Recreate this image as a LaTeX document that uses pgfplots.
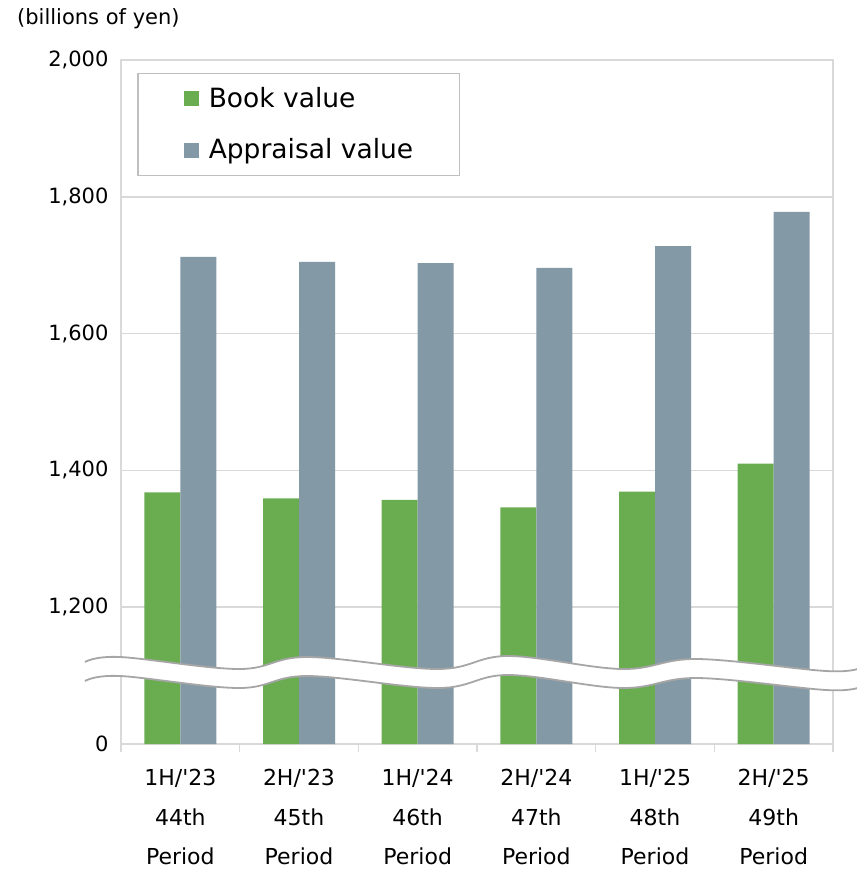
\documentclass[border=0pt]{standalone}
\usepackage{fontspec}
\setmainfont{DejaVu Sans}
\usepackage{pgfplots}
\pgfplotsset{compat=1.18}
\definecolor{bookgreen}{HTML}{6AAD50}
\definecolor{apprgray}{HTML}{839AA6}
\definecolor{gridgray}{HTML}{D9D9D9}
\definecolor{wavegray}{HTML}{A6A6A6}
\definecolor{legendgray}{HTML}{BFBFBF}
\pgfplotsset{sqlegend/.style={legend image code/.code={\fill[##1] (0bp,-7.5bp) rectangle (15bp,7.5bp);}}}
\begin{document}
\begin{tikzpicture}
\path[use as bounding box] (0,0) rectangle (857bp,-869bp);
\node[anchor=west, font=\fontsize{21bp}{25bp}\selectfont, inner sep=0pt] at (17bp,-19bp) {(billions of yen)};
\begin{axis}[
  at={(121bp,-744bp)}, anchor=south west, scale only axis,
  width=712bp, height=684bp,
  xmin=-0.5, xmax=5.5, ymin=1000, ymax=2000,
  ybar=0pt, bar width=36bp,
  axis line style={draw=gridgray, line width=1.5bp},
  ytick={1000,1200,1400,1600,1800,2000},
  yticklabels={0,{1,200},{1,400},{1,600},{1,800},{2,000}},
  ytick style={draw=none},
  ymajorgrids, grid style={draw=gridgray, line width=1.5bp},
  yticklabel style={font=\fontsize{21bp}{25bp}\selectfont, xshift=-1bp},
  xtick={-0.5,0.5,1.5,2.5,3.5,4.5,5.5},
  x tick label as interval,
  xticklabels={{1H/\textquotesingle23\\44th\\Period},{2H/\textquotesingle23\\45th\\Period},{1H/\textquotesingle24\\46th\\Period},{2H/\textquotesingle24\\47th\\Period},{1H/\textquotesingle25\\48th\\Period},{2H/\textquotesingle25\\49th\\Period}},
  xtick pos=bottom, tick align=outside, major tick length=8bp,
  xtick style={draw=gridgray, line width=1.5bp},
  xticklabel style={font=\fontsize{22bp}{39.5bp}\selectfont, align=center, yshift=-14bp},
  legend style={at={(axis description cs:0.0225,0.981)}, anchor=north west, draw=legendgray, line width=1.5bp, fill=white,
    font=\fontsize{26.5bp}{30bp}\selectfont, inner xsep=46bp, inner ysep=12bp, row sep=25bp,
    nodes={inner sep=0pt, text height=21.5bp, text depth=5bp},
    /tikz/every odd column/.append style={column sep=10bp}},
  legend cell align=left,
]
\addplot[fill=bookgreen, draw=none, sqlegend] coordinates {(0,1368) (1,1359) (2,1357) (3,1346) (4,1369) (5,1410)};
\addplot[fill=apprgray, draw=none, sqlegend] coordinates {(0,1712) (1,1705) (2,1703) (3,1696) (4,1728) (5,1778)};
\legend{Book value, Appraisal value}
\end{axis}
% axis break wave
\fill[white] plot[smooth, tension=0.6] coordinates {(85bp,-662bp) (120bp,-657bp) (239bp,-669bp) (307bp,-657bp) (438bp,-669bp) (508bp,-656bp) (622bp,-669bp) (697bp,-659bp) (826bp,-671bp) (860bp,-668bp)}
  -- plot[smooth, tension=0.6] coordinates {(860bp,-687bp) (826bp,-690bp) (697bp,-678bp) (622bp,-688bp) (508bp,-675bp) (438bp,-688bp) (307bp,-676bp) (239bp,-688bp) (120bp,-676bp) (85bp,-681bp)} -- cycle;
\draw[wavegray, line width=1.8bp] plot[smooth, tension=0.6] coordinates {(85bp,-662bp) (120bp,-657bp) (239bp,-669bp) (307bp,-657bp) (438bp,-669bp) (508bp,-656bp) (622bp,-669bp) (697bp,-659bp) (826bp,-671bp) (860bp,-668bp)};
\draw[wavegray, line width=1.8bp] plot[smooth, tension=0.6] coordinates {(85bp,-681bp) (120bp,-676bp) (239bp,-688bp) (307bp,-676bp) (438bp,-688bp) (508bp,-675bp) (622bp,-688bp) (697bp,-678bp) (826bp,-690bp) (860bp,-687bp)};
\end{tikzpicture}
\end{document}
